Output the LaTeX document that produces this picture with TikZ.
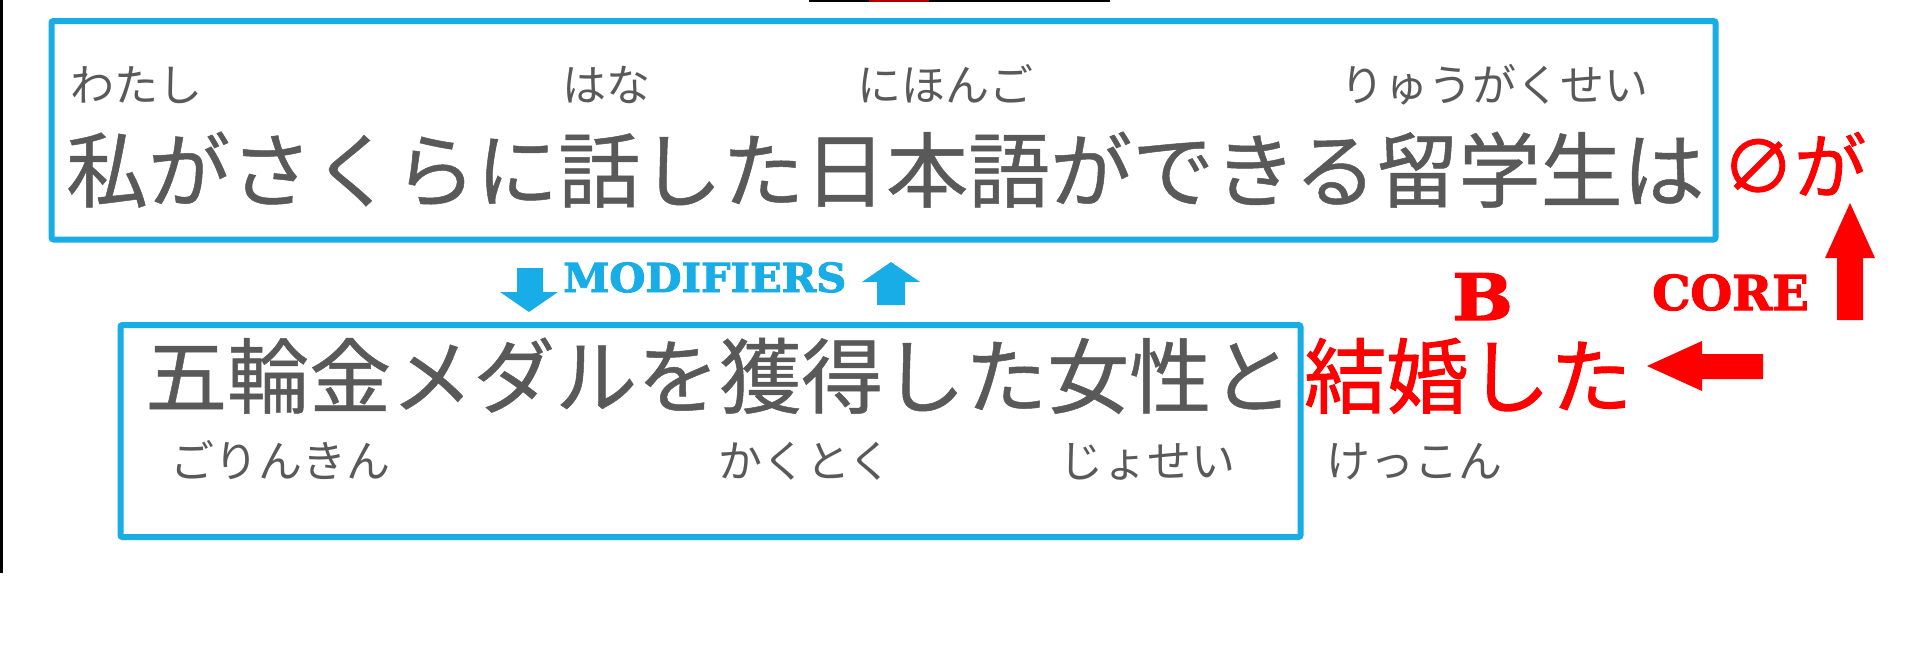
\documentclass[tikz,border=0pt]{standalone}
\usepackage{fontspec}
\newfontfamily\jp[FakeBold=0.6]{Noto Sans CJK JP}
\newfontfamily\jpr{Noto Sans CJK JP}
\newfontfamily\jpred[FakeBold=1.2]{Noto Sans CJK JP}
\newfontfamily\slab[BoldFeatures={FakeBold=2.2}]{DejaVu Serif}
\definecolor{txtgray}{HTML}{595959}
\definecolor{boxblue}{HTML}{18ADE6}
\definecolor{hotred}{HTML}{FF0000}
\tikzset{
  jpmain/.style={anchor=base west, inner sep=0pt, font=\jp\fontsize{82}{82}\selectfont, text=txtgray},
  ruby/.style={anchor=base west, inner sep=0pt, font=\jpr\fontsize{44}{44}\selectfont, text=txtgray},
  frame/.style={draw=boxblue, line width=6pt, rounded corners=2pt},
  slabtext/.style={anchor=base west, inner sep=0pt},
}
\begin{document}
\begin{tikzpicture}[x=1pt,y=-1pt]
\useasboundingbox[fill=white] (0,0) rectangle (1919,648);
% cropped-slide remnants
\draw[black, line width=3pt] (1.5,0) -- (1.5,571) -- (3,571);
\draw[black, line width=2pt] (809,1) -- (1110,1);
\draw[hotred!70!black, line width=2pt] (869,1) -- (929,1);
% boxes
\draw[frame] (51.5,21) rectangle (1715.5,239.5);
\draw[frame] (120.5,325) rectangle (1300.5,537);
% top line
\node[ruby] (r1) at (70,101) {わたし};
\node[ruby] (r2) at (562,101) {はな};
\node[ruby] (r3) at (857,101) {にほんご};
\node[ruby] (r4) at (1340,101) {りゅうがくせい};
\node[jpmain] (top) at (66,201) {私がさくらに話した日本語ができる留学生は};
\node[anchor=base west, inner sep=0pt, font=\jpred\fontsize{72}{72}\selectfont, text=hotred] (core) at (1722,193) {∅が};
% bottom line
\node[jpmain] (bot) at (145,407) {五輪金メダルを獲得した女性と};
\node[jpmain, font=\jpred\fontsize{82}{82}\selectfont, text=hotred] (verb) at (1304,407) {結婚した};
\node[ruby] (r5) at (170,477) {ごりんきん};
\node[ruby] (r6) at (718,477) {かくとく};
\node[ruby] (r7) at (1059,477) {じょせい};
\node[ruby] (r8) at (1326,477) {けっこん};
% labels
\node[slabtext, text=boxblue] (mod) at (563,292) {\scalebox{1.04}[1]{\slab\bfseries\fontsize{40}{40}\selectfont MODIFIERS}};
\node[slabtext, text=hotred] (corel) at (1652,310) {\slab\bfseries\fontsize{48}{48}\selectfont CORE};
\node[slabtext, text=hotred] (bl) at (1452,320) {\scalebox{1.12}[1]{\slab\bfseries\fontsize{64}{64}\selectfont B}};
% blue block arrows
\fill[boxblue] (517,268) -- (543,268) -- (543,292) -- (558,292) -- (529,312) -- (500,292) -- (517,292) -- cycle;
\fill[boxblue] (877,305) -- (905,305) -- (905,282) -- (920,282) -- (891,262) -- (862,282) -- (877,282) -- cycle;
% red block arrows
\fill[hotred] (1837,320) -- (1863,320) -- (1863,258) -- (1875,258) -- (1850,203) -- (1825,258) -- (1837,258) -- cycle;
\fill[hotred] (1763,354) -- (1763,379) -- (1702,379) -- (1702,391) -- (1647,366) -- (1702,341) -- (1702,354) -- cycle;
\end{tikzpicture}
\end{document}
